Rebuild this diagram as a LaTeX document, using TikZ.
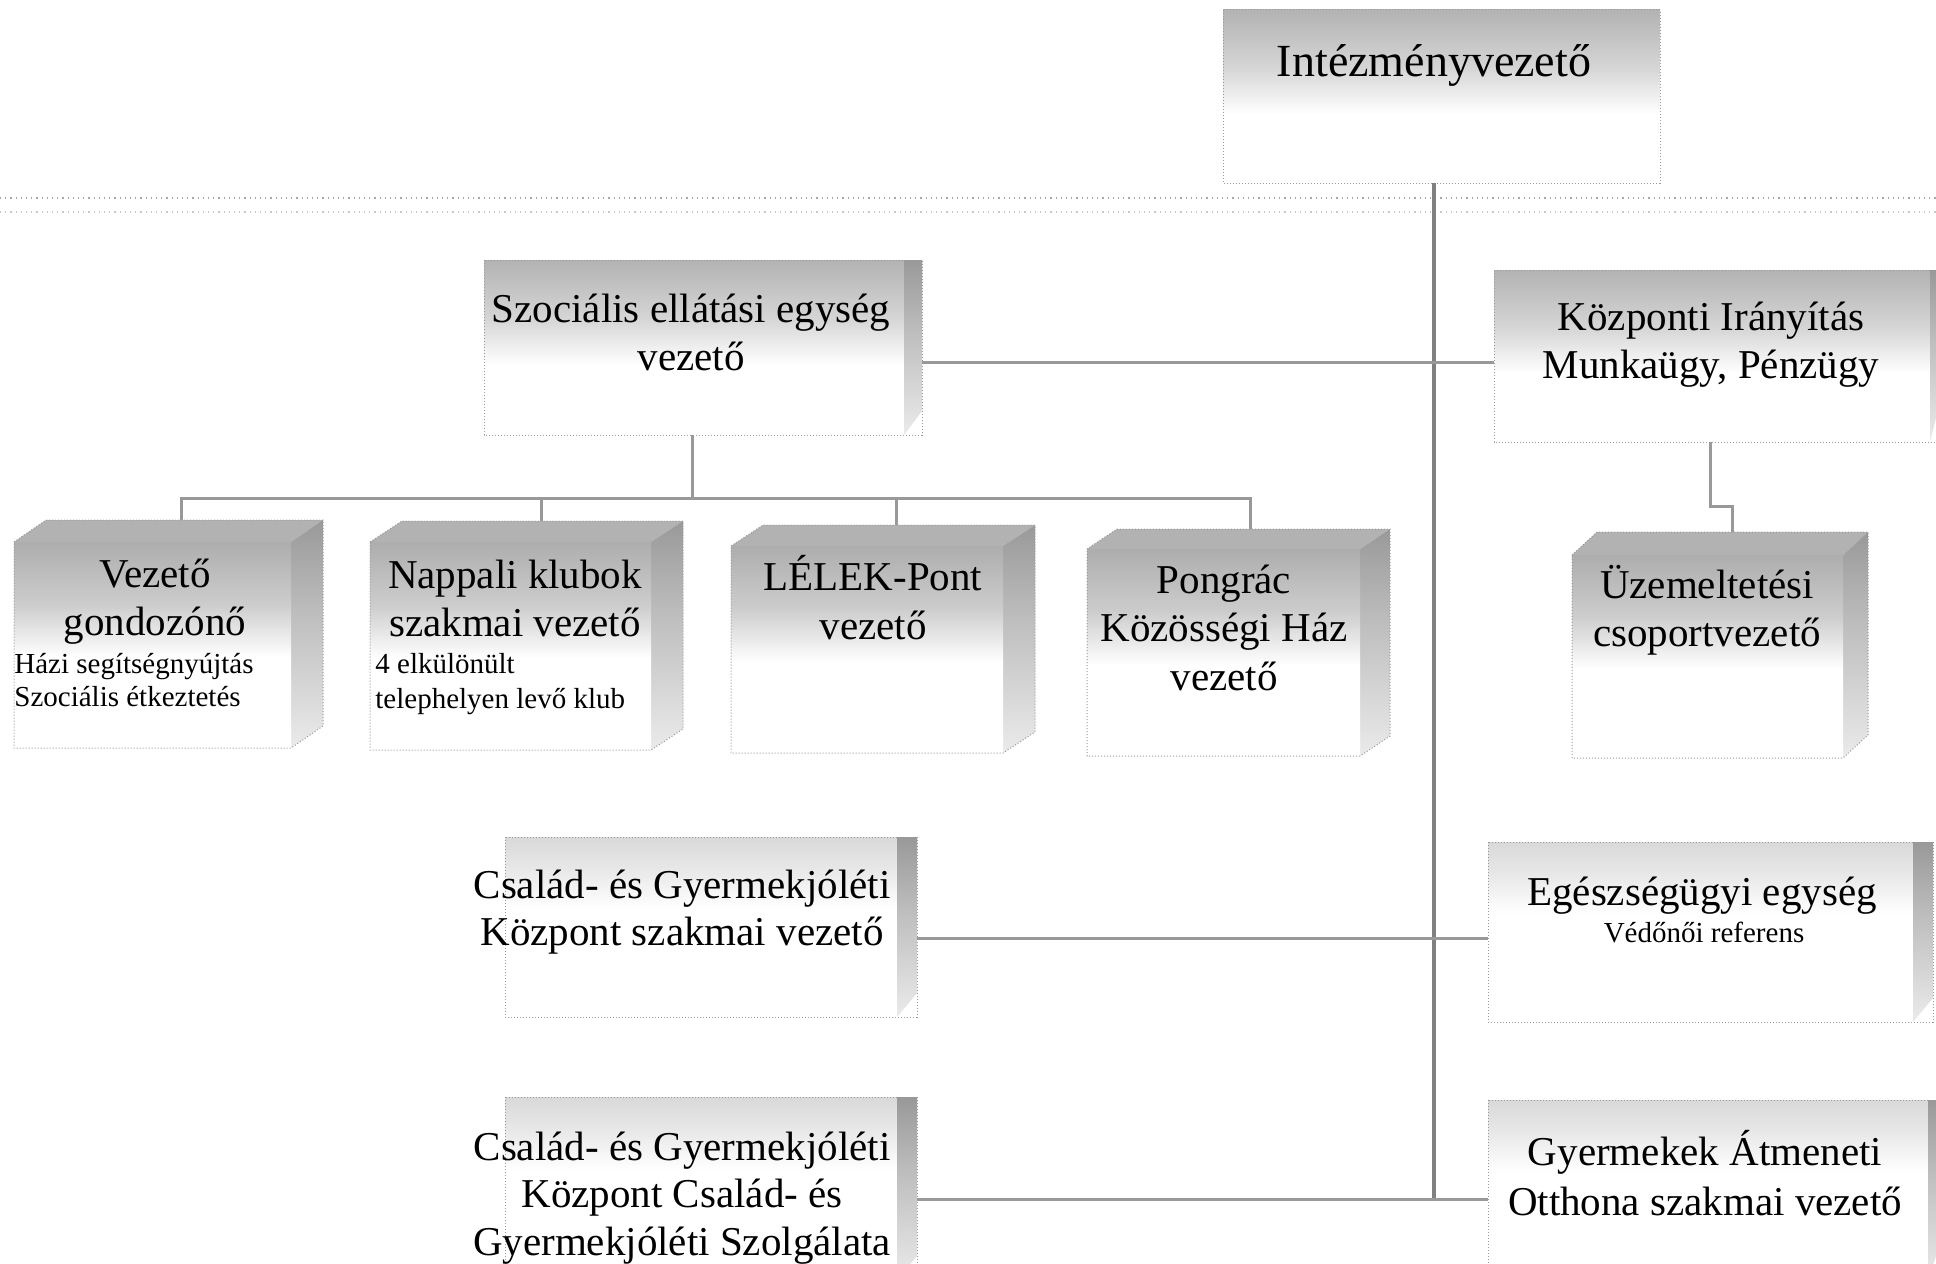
\documentclass[tikz,border=0pt]{standalone}
\usepackage{fontspec}
\setmainfont{Liberation Serif}
\usetikzlibrary{fit}
\pgfdeclareverticalshading{frontshade}{100bp}{color(0bp)=(white); color(25bp)=(white); color(47bp)=(white); color(60bp)=(black!20); color(75bp)=(black!32); color(100bp)=(black!32)}
\pgfdeclareverticalshading{flatshade}{100bp}{color(0bp)=(white); color(25bp)=(white); color(45bp)=(white); color(58bp)=(black!16); color(75bp)=(black!30); color(100bp)=(black!30)}
\pgfdeclareverticalshading{lightshade}{100bp}{color(0bp)=(white); color(25bp)=(white); color(55bp)=(white); color(66bp)=(black!9); color(75bp)=(black!15); color(100bp)=(black!15)}
\pgfdeclareverticalshading{sideshade}{100bp}{color(0bp)=(black!8); color(25bp)=(black!8); color(55bp)=(black!26); color(75bp)=(black!40); color(100bp)=(black!40)}
\newcommand\cubebox[7]{%
  \fill[black!30] (#2,#3) -- ({#2+#6},{#3-#7}) -- ({#4+#6},{#3-#7}) -- (#4,#3) -- cycle;
  \shade[shading=sideshade] (#4,#3) -- ({#4+#6},{#3-#7}) -- ({#4+#6},{#5-#7}) -- (#4,#5) -- cycle;
  \node[front, fit={(#2,#3) (#4,#5)}] (#1) {};
  \draw[edge] (#2,#3) -- ({#2+#6},{#3-#7}) -- ({#4+#6},{#3-#7}) -- ({#4+#6},{#5-#7}) -- (#4,#5) -- (#2,#5) -- cycle;
}
\newcommand\flatbox[7]{%
  \node[fit={(#2,#3) (#4,#5)}, inner sep=0pt, outer sep=0pt, shading=#6] (#1) {};
  \shade[shading=sideshade] ({#4-#7},#3) -- (#4,#3) -- (#4,{#5-24}) -- ({#4-#7},#5) -- cycle;
  \draw[edge] (#2,#3) rectangle (#4,#5);
}
\begin{document}
\begin{tikzpicture}[x=0.5pt,y=-0.5pt,
  front/.style={shading=frontshade, inner sep=0pt, outer sep=0pt, rectangle},
  edge/.style={draw=black!40, densely dotted, line width=0.5pt},
  conn/.style={draw=black!40, line width=1.5pt},
  trunk/.style={draw=black!50, line width=1.6pt},
  guide/.style={draw=black!35, dotted, line width=0.6pt},
  big/.style={font=\fontsize{20.5}{24}\selectfont, inner sep=0pt, anchor=base},
  top/.style={font=\fontsize{23}{27}\selectfont, inner sep=0pt, anchor=base},
  sm/.style={font=\fontsize{14.5}{17}\selectfont, inner sep=0pt, anchor=base west},
  smc/.style={font=\fontsize{14.5}{17}\selectfont, inner sep=0pt, anchor=base}]
\fill[white] (0,0) rectangle (1936,1263);
\useasboundingbox (0,0) rectangle (1936,1263);

% dotted guide lines
\coordinate (gA) at (0,198); \coordinate (gB) at (1936,198);
\coordinate (gC) at (0,212); \coordinate (gD) at (1936,212);
\draw[guide] (gA) -- (gB);
\draw[guide, draw=black!22] (gC) -- (gD);

% key coordinates
\coordinate (j1) at (1434,362);
\coordinate (j2) at (1434,938);
\coordinate (j3) at (1434,1199);
\coordinate (bar) at (692,498);
\coordinate (vez-in) at (181,520);
\coordinate (nap-in) at (541,521);
\coordinate (lel-in) at (896,525);
\coordinate (pon-in) at (1250,529);
\coordinate (uz-in) at (1732,532);

% flat boxes
\flatbox{intez}{1223}{10}{1660}{183}{flatshade}{0}
\flatbox{szoc}{484}{260}{922}{435}{flatshade}{18}
\flatbox{kozp}{1494}{270}{1936}{442}{flatshade}{6}
\flatbox{csk1}{505}{837}{917}{1017}{lightshade}{20}
\flatbox{csk2}{505}{1097}{917}{1280}{lightshade}{20}
\flatbox{eg}{1488}{842}{1933}{1022}{lightshade}{20}
\flatbox{gy}{1488}{1100}{1936}{1280}{lightshade}{8}

% connectors
\draw[trunk] (intez.south -| j1) -- (j3);
\draw[conn] (szoc.east |- j1) -- (j1) -- (kozp.west |- j1);
\draw[conn] (csk1.east |- j2) -- (j2) -- (eg.west |- j2);
\draw[conn] (csk2.east |- j3) -- (j3) -- (gy.west |- j3);
\draw[conn] (szoc.south -| bar) -- (bar);
\draw[conn] (vez-in) |- (bar) -| (pon-in);
\draw[conn] (nap-in) -- (nap-in |- bar);
\draw[conn] (lel-in) -- (lel-in |- bar);
\draw[conn] (kozp.south -| 1710,0) -- (1710,506) -| (uz-in);

% 3D boxes
\cubebox{vez}{14}{542}{291}{748}{32}{22}
\cubebox{nap}{370}{542}{651}{750}{32}{21}
\cubebox{lel}{731}{546}{1003}{753}{32}{21}
\cubebox{pon}{1087}{549}{1360}{756}{30}{20}
\cubebox{uzem}{1572}{555}{1843}{758}{25}{23}

% texts
\node[top] (intez-t) at (1434,76) {Intézményvezető};
\node[big] (szoc-t1) at (691,322) {Szociális ellátási egység};
\node[big] (szoc-t2) at (691,370) {vezető};
\node[big] (kozp-t1) at (1711,330) {Központi Irányítás};
\node[big] (kozp-t2) at (1711,378) {Munkaügy, Pénzügy};

\node[big] (vez-t1) at (155,587) {Vezető};
\node[big] (vez-t2) at (155,635) {gondozónő};
\node[sm] (vez-t3) at (14,673) {Házi segítségnyújtás};
\node[sm] (vez-t4) at (14,706) {Szociális étkeztetés};

\node[big] (nap-t1) at (515,588) {Nappali klubok};
\node[big] (nap-t2) at (515,636) {szakmai vezető};
\node[sm] (nap-t3) at (375,673) {4 elkülönült};
\node[sm] (nap-t4) at (375,708) {telephelyen levő klub};

\node[big] (lel-t1) at (873,590) {LÉLEK-Pont};
\node[big] (lel-t2) at (873,639) {vezető};

\node[big] (pon-t1) at (1224,593) {Pongrác};
\node[big] (pon-t2) at (1224,641) {Közösségi Ház};
\node[big] (pon-t3) at (1224,690) {vezető};

\node[big] (uz-t1) at (1707,598) {Üzemeltetési};
\node[big] (uz-t2) at (1707,646) {csoportvezető};

\node[big] (csk1-t1) at (682,898) {Család- és Gyermekjóléti};
\node[big] (csk1-t2) at (682,945) {Központ szakmai vezető};

\node[big] (csk2-t1) at (682,1160) {Család- és Gyermekjóléti};
\node[big] (csk2-t2) at (682,1207) {Központ Család- és};
\node[big] (csk2-t3) at (682,1255) {Gyermekjóléti Szolgálata};

\node[big] (eg-t1) at (1702,905) {Egészségügyi egység};
\node[smc] (eg-t2) at (1704,942) {Védőnői referens};

\node[big] (gy-t1) at (1705,1165) {Gyermekek Átmeneti};
\node[big] (gy-t2) at (1705,1215) {Otthona szakmai vezető};
\end{tikzpicture}
\end{document}
